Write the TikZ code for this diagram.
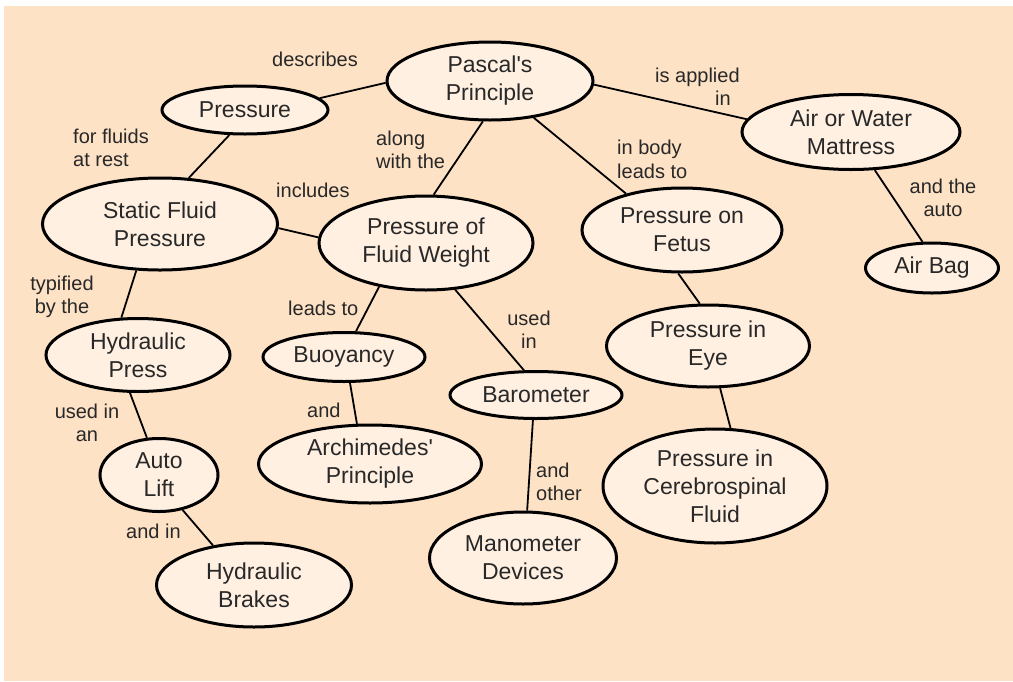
\documentclass[tikz,border=0pt]{standalone}
\usepackage{fontspec}
\setmainfont{Liberation Sans}[Ligatures=TeXOff]
\usetikzlibrary{shapes.geometric}
\definecolor{bgpeach}{RGB}{253,226,198}
\definecolor{nodefill}{RGB}{255,240,226}
\definecolor{txtgray}{RGB}{40,40,40}
\begin{document}
\begin{tikzpicture}[x=1pt,y=-1pt,
  concept/.style={ellipse,draw=black,line width=3pt,fill=nodefill,inner sep=0pt,
    align=center,text=txtgray,font=\fontsize{23}{28}\selectfont},
  lbl/.style={text=txtgray,font=\fontsize{20}{23.5}\selectfont,inner sep=0pt},
  link/.style={line width=1.8pt,black}]
\useasboundingbox (0,0) rectangle (1013,681);
\fill[white] (0,0) rectangle (1013,681);
\fill[bgpeach] (4,6) rectangle (1013,681);

\node[concept,minimum width=206,minimum height=78] (pas) at (490,81) {Pascal's\\Principle};
\node[concept,minimum width=166,minimum height=48] (pre) at (245,110) {Pressure};
\node[concept,minimum width=218,minimum height=75] (mat) at (851,132) {Air or Water\\Mattress};
\node[concept,minimum width=235,minimum height=92] (sta) at (160,224) {Static Fluid\\Pressure};
\node[concept,minimum width=214,minimum height=94] (fw) at (426,243) {Pressure of\\Fluid Weight};
\node[concept,minimum width=200,minimum height=84] (fet) at (682,230) {Pressure on\\Fetus};
\node[concept,minimum width=133,minimum height=50] (bag) at (932,268) {Air Bag};
\node[concept,minimum width=184,minimum height=73] (hp) at (138,355) {Hydraulic\\Press};
\node[concept,minimum width=162,minimum height=49] (buo) at (344,357) {Buoyancy};
\node[concept,minimum width=172,minimum height=47] (bar) at (536,395) {Barometer};
\node[concept,minimum width=203,minimum height=82] (eye) at (708,346) {Pressure in\\Eye};
\node[concept,minimum width=223,minimum height=78] (arc) at (370,464) {Archimedes'\\Principle};
\node[concept,minimum width=118,minimum height=73] (aut) at (159,475) {Auto\\Lift};
\node[concept,minimum width=224,minimum height=114] (cer) at (715,486) {Pressure in\\Cerebrospinal\\Fluid};
\node[concept,minimum width=187,minimum height=92] (man) at (523,558) {Manometer\\Devices};
\node[concept,minimum width=195,minimum height=84] (bra) at (254,585) {Hydraulic\\Brakes};

\draw[link] (pas.181) -- (pre.9);
\draw[link] (pas.-2) -- (mat.173);
\draw[link] (pas.260) -- (fw.81);
\draw[link] (pas.320) -- (fet.147);
\draw[link] (pre.238) -- (sta.58);
\draw[link] (sta.-2) -- (fw.177);
\draw[link] (sta.243) -- (hp.114);
\draw[link] (mat.302) -- (bag.110);
\draw[link] (fw.223) -- (buo.65);
\draw[link] (fw.302) -- (bar.116);
\draw[link] (fet.265) -- (eye.101);
\draw[link] (eye.286) -- (cer.75);
\draw[link] (hp.258) -- (aut.108);
\draw[link] (buo.283) -- (arc.108);
\draw[link] (bar.263) -- (man.85);
\draw[link] (aut.304) -- (bra.136);

% labels (base anchor = baseline of the last line)
\node[lbl,anchor=base west] (l1) at (272,66) {describes};
\node[lbl,anchor=base west,align=left] (l2) at (655,105.5) {is applied\\\hspace*{60pt}in};
\node[lbl,anchor=base west,align=left] (l3) at (376,168.5) {along\\with the};
\node[lbl,anchor=base west,align=left] (l4) at (617,178) {in body\\leads to};
\node[lbl,anchor=base west,align=left] (l5) at (73,166.5) {for fluids\\at rest};
\node[lbl,anchor=base west] (l6) at (276,197) {includes};
\node[lbl,anchor=base,align=center] (l7) at (62,313.5) {typified\\by the};
\node[lbl,anchor=base,align=center] (l8) at (943,216.5) {and the\\auto};
\node[lbl,anchor=base west] (l9) at (288,315) {leads to};
\node[lbl,anchor=base,align=center] (l10) at (529,348.5) {used\\in};
\node[lbl,anchor=base,align=center] (l11) at (87,441.5) {used in\\an};
\node[lbl,anchor=base west] (l12) at (307,417) {and};
\node[lbl,anchor=base west,align=left] (l13) at (536,500.5) {and\\other};
\node[lbl,anchor=base west] (l14) at (126,538) {and in};
\end{tikzpicture}
\end{document}
